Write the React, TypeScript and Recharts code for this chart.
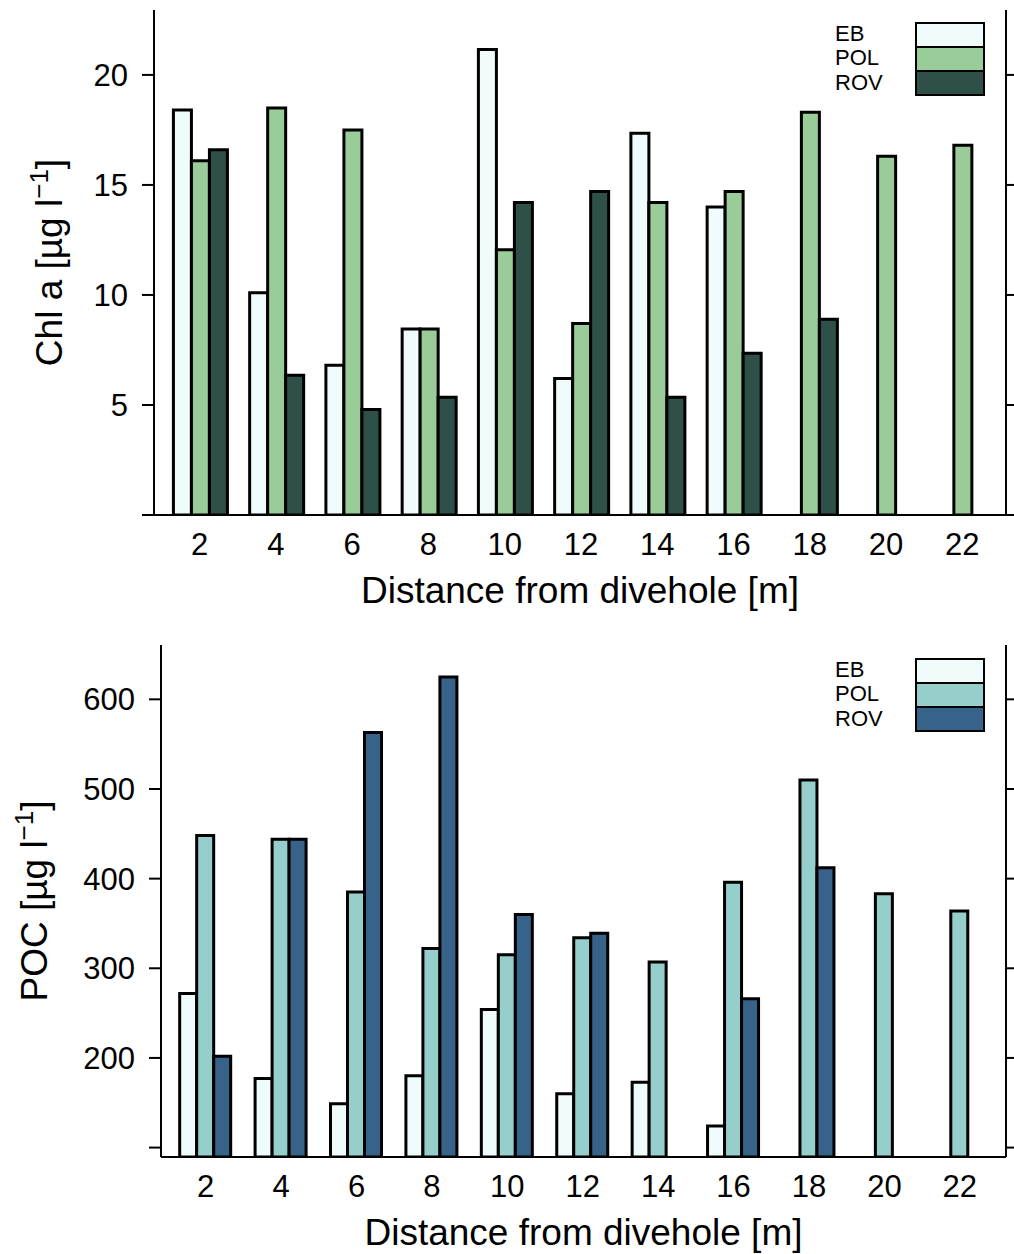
import { BarChart, Bar, XAxis, YAxis, Legend } from 'recharts'

// distance from the divehole [m]
const DISTANCES = ['2', '4', '6', '8', '10', '12', '14', '16', '18', '20', '22']
const SERIES = ['EB', 'POL', 'ROV']

// Chl a [µg l-1]
const CHL_EB = [18.4, 10.1, 6.8, 8.45, 21.15, 6.2, 17.35, 14.0, null, null, null]
const CHL_POL = [16.1, 18.5, 17.5, 8.45, 12.05, 8.7, 14.2, 14.7, 18.3, 16.3, 16.8]
const CHL_ROV = [16.6, 6.35, 4.8, 5.35, 14.2, 14.7, 5.35, 7.35, 8.9, null, null]
const CHL_TICKS = [0, 5, 10, 15, 20]

// POC [µg l-1]
const POC_EB = [272, 177, 149, 180, 254, 160, 173, 124, null, null, null]
const POC_POL = [448, 444, 385, 322, 315, 334, 307, 396, 510, 383, 364]
const POC_ROV = [202, 444, 563, 625, 360, 339, null, 266, 412, null, null]
const POC_TICKS = [100, 200, 300, 400, 500, 600]

const CHL_COLORS = ['#f0fcfc', '#99cc99', '#2f5049']
const POC_COLORS = ['#f0fcfc', '#96cecc', '#376289']

const FONT = '"Liberation Sans", Arial, Helvetica, sans-serif'
const AXIS = { stroke: '#000', strokeWidth: 2 }
const TICK = { fontSize: 31, fill: '#000', fontFamily: FONT }

function rows(eb: (number | null)[], pol: (number | null)[], rov: (number | null)[]) {
  return DISTANCES.map((d, i) => ({ distance: d, EB: eb[i], POL: pol[i], ROV: rov[i] }))
}

function BoxLegend({ colors }: { colors: string[] }) {
  return (
    <div style={{ position: 'relative', width: 160, height: 76, fontFamily: FONT, color: '#000' }}>
      {SERIES.map((s, i) => (
        <div
          key={s}
          style={{ position: 'absolute', left: 0, top: i * 24.3, height: 24.3, lineHeight: '24.3px', fontSize: 22 }}
        >
          {s}
        </div>
      ))}
      <div style={{ position: 'absolute', left: 80, top: 0, width: 66, border: '2px solid #000' }}>
        {SERIES.map((s, i) => (
          <div
            key={s}
            style={{ height: 22, background: colors[i], borderTop: i ? '2px solid #000' : 'none' }}
          />
        ))}
      </div>
    </div>
  )
}

function xTitle(props: any) {
  const vb = props.viewBox
  return (
    <text x={vb.x + vb.width / 2} y={vb.y + 88} textAnchor="middle" fontSize={37} fontFamily={FONT} fill="#000">
      Distance from divehole [m]
    </text>
  )
}

function yTitle(name: string, cx: number) {
  return (props: any) => {
    const vb = props.viewBox
    const cy = vb.y + vb.height / 2
    return (
      <text
        x={cx}
        y={cy}
        transform={`rotate(-90 ${cx} ${cy})`}
        textAnchor="middle"
        fontSize={37}
        fontFamily={FONT}
        fill="#000"
      >
        {name} [µg l
        <tspan dy={-14} fontSize={26}>−1</tspan>
        <tspan dy={14}>]</tspan>
      </text>
    )
  }
}

interface PanelProps {
  data: ReturnType<typeof rows>
  colors: string[]
  height: number
  top: number
  left: number
  xHeight: number
  padding: { left: number; right: number }
  domain: [number, number]
  ticks: number[]
  hidden: number
  yName: string
  yLabelX: number
  legendTop: number
}

function Panel(p: PanelProps) {
  return (
    <BarChart
      width={1014}
      height={p.height}
      data={p.data}
      margin={{ top: p.top, right: 0, bottom: 0, left: 0 }}
      barCategoryGap="15.5%"
      barGap={0}
    >
      <XAxis
        dataKey="distance"
        height={p.xHeight}
        padding={p.padding}
        interval={0}
        tickLine={false}
        tickSize={6}
        tickMargin={12}
        axisLine={AXIS}
        tick={TICK}
        label={{ content: xTitle }}
      />
      <XAxis xAxisId="top" dataKey="distance" orientation="top" height={0} tick={false} tickLine={false} axisLine={AXIS} />
      <YAxis
        yAxisId="left"
        width={p.left}
        type="number"
        domain={p.domain}
        allowDataOverflow
        ticks={p.ticks}
        interval={0}
        tickSize={12}
        tickMargin={14}
        tickFormatter={(v: number) => (v === p.hidden ? '' : String(v))}
        axisLine={AXIS}
        tickLine={AXIS}
        tick={TICK}
        label={{ content: yTitle(p.yName, p.yLabelX) }}
      />
      <YAxis
        yAxisId="right"
        orientation="right"
        width={8}
        type="number"
        domain={p.domain}
        allowDataOverflow
        ticks={p.ticks}
        interval={0}
        tickSize={8}
        tickFormatter={() => ''}
        axisLine={AXIS}
        tickLine={AXIS}
      />
      <Legend
        layout="vertical"
        align="center"
        verticalAlign="middle"
        wrapperStyle={{ left: 835, top: p.legendTop, width: 160, height: 76 }}
        content={() => <BoxLegend colors={p.colors} />}
      />
      {SERIES.map((s, i) => (
        <Bar
          key={s}
          yAxisId="left"
          dataKey={s}
          fill={p.colors[i]}
          stroke="#000"
          strokeWidth={3}
          isAnimationActive={false}
        />
      ))}
    </BarChart>
  )
}

export default function App() {
  return (
    <div style={{ position: 'absolute', left: 0, top: 0, width: 1014, height: 1254, background: '#fff' }}>
      <div style={{ position: 'absolute', left: 0, top: 0 }}>
        <Panel
          data={rows(CHL_EB, CHL_POL, CHL_ROV)}
          colors={CHL_COLORS}
          height={625}
          top={10}
          left={154}
          xHeight={110}
          padding={{ left: 7.6, right: 5.7 }}
          domain={[0, 22.95]}
          ticks={CHL_TICKS}
          hidden={0}
          yName="Chl a"
          yLabelX={62}
          legendTop={22}
        />
      </div>
      <div style={{ position: 'absolute', left: 0, top: 630 }}>
        <Panel
          data={rows(POC_EB, POC_POL, POC_ROV)}
          colors={POC_COLORS}
          height={624}
          top={15}
          left={161}
          xHeight={97}
          padding={{ left: 7, right: 8.5 }}
          domain={[89.5, 660.6]}
          ticks={POC_TICKS}
          hidden={100}
          yName="POC"
          yLabelX={47}
          legendTop={28}
        />
      </div>
    </div>
  )
}
